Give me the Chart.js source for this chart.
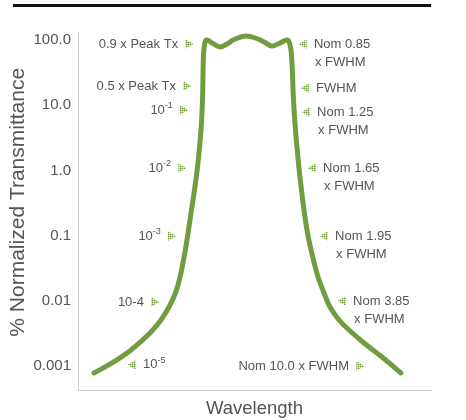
<!DOCTYPE html>
<html><head><meta charset="utf-8">
<script src="https://cdn.jsdelivr.net/npm/chart.js@4/dist/chart.umd.min.js"></script>
<style>
html,body{margin:0;padding:0;background:#fff;}
#wrap{position:relative;width:466px;height:420px;}
#rule{position:absolute;left:13px;top:4px;width:418px;height:3px;background:#111;}
canvas{position:absolute;left:0;top:0;}
</style></head><body>
<div id="wrap"><canvas id="c" width="466" height="420"></canvas><div id="rule"></div></div>
<script>
// ---- data (wavelength in arbitrary units 0..100, transmittance in %) ----
const curveX = [4.53, 9.63, 15.01, 20.40, 23.51, 25.78, 27.62, 28.90, 29.89, 30.74, 31.44, 32.15, 33.00, 33.99, 34.84, 35.27, 35.41, 35.55, 35.84, 36.40,
                38.24, 40.23, 42.21, 44.19, 47.59, 50.99, 52.97, 54.96, 56.94, 59.35,
                60.06, 60.48, 60.76, 61.05, 61.61, 62.46, 63.31, 64.02, 64.73, 65.58, 66.71, 67.99, 69.69, 71.39, 73.94, 76.77, 81.02, 86.12, 91.50];
const curveY = [0.000781, 0.001111, 0.001759, 0.003207, 0.005076, 0.00803, 0.01317, 0.02317, 0.04224, 0.0770, 0.1355, 0.2469, 0.5005, 1.299, 4.165, 12.02, 29.05, 58.88, 83.8, 100,
                88.4, 78.1, 86.9, 101.8, 115.2, 103.6, 91.6, 80.9, 88.4, 100,
                83.8, 58.88, 29.05, 12.02, 4.165, 1.299, 0.5005, 0.2469, 0.1355, 0.0770, 0.04224, 0.02317, 0.01317, 0.00803, 0.005076, 0.003565, 0.002253, 0.001374, 0.000781];

const tickValues = [0.001, 0.01, 0.1, 1, 10, 100];
const tickLabels = ['0.001', '0.01', '0.1', '1.0', '10.0', '100.0'];

const markerX   = [31.2, 30.6, 29.7, 29.2, 26.3, 21.5, 79.6, 15.6, 64.0, 64.6, 64.9, 66.6, 70.0, 75.1];
const markerY   = [86.9, 19.7, 8.44, 1.09, 0.0986, 0.0096, 0.001, 0.00104, 86.9, 18.4, 7.87, 1.09, 0.0986, 0.0099];
const markerDir = ['right','right','right','right','right','right','right','left','left','left','left','left','left','left'];
const labelText = ['0.9 x Peak Tx', '0.5 x Peak Tx', '10', '10', '10', '10-4', 'Nom 10.0 x FWHM', '10',
                   'Nom 0.85\nx FWHM', 'FWHM', 'Nom 1.25\nx FWHM', 'Nom 1.65\nx FWHM', 'Nom 1.95\nx FWHM', 'Nom 3.85\nx FWHM'];
const labelSup  = ['', '', '-1', '-2', '-3', '', '', '-5', '', '', '', '', '', ''];

const yMin = 0.000428, yMax = 132.7;

// ---- build ----
const FONT = "'Liberation Sans', Arial, Helvetica, sans-serif";
const GREEN = '#719c40';
const TXT = '#555555';

const pc = document.createElement('canvas'); pc.width = 2; pc.height = 2;
const pctx = pc.getContext('2d');
pctx.fillStyle = '#6e9c3c'; pctx.fillRect(0,0,1,1);
pctx.fillStyle = '#b3d097'; pctx.fillRect(1,0,1,1); pctx.fillRect(0,1,1,1);
pctx.fillStyle = '#e4efd9'; pctx.fillRect(1,1,1,1);
const ctxMain = document.getElementById('c').getContext('2d');
const dotPattern = ctxMain.createPattern(pc, 'repeat');

const curveData = curveX.map((x,i)=>({x, y: curveY[i]}));
const mRight = [], mLeft = [];
markerX.forEach((x,i)=>{ (markerDir[i]==='right' ? mRight : mLeft).push({x, y: markerY[i]}); });

const labelPlugin = {
  id: 'annoLabels',
  afterDatasetsDraw(chart) {
    const ctx = chart.ctx, xs = chart.scales.x, ys = chart.scales.y;
    const base = "13px " + FONT, supF = "9px " + FONT;
    ctx.save();
    ctx.fillStyle = TXT;
    ctx.textBaseline = 'middle';
    for (let i = 0; i < labelText.length; i++) {
      const px = xs.getPixelForValue(markerX[i]);
      const py = ys.getPixelForValue(markerY[i]);
      const lines = labelText[i].split('\n');
      const sup = labelSup[i];
      ctx.font = base;
      if (markerDir[i] === 'right') {
        let xr = px - 10;
        if (sup) {
          ctx.font = supF; ctx.textAlign = 'right';
          ctx.fillText(sup, xr, py - 4);
          xr -= ctx.measureText(sup).width;
          ctx.font = base;
        }
        ctx.textAlign = 'right';
        lines.forEach((l,k)=>ctx.fillText(l, xr + k, py + k*18));
      } else {
        const xl = px + 10;
        ctx.textAlign = 'left';
        lines.forEach((l,k)=>ctx.fillText(l, xl + k, py + k*18));
        if (sup) {
          const w = ctx.measureText(lines[0]).width;
          ctx.font = supF;
          ctx.fillText(sup, xl + w, py - 4);
        }
      }
    }
    ctx.restore();
  }
};

new Chart(ctxMain, {
  type: 'line',
  data: {
    datasets: [
      { data: curveData, borderColor: GREEN, borderWidth: 5, pointRadius: 0, tension: 0.4,
        borderCapStyle: 'round', borderJoinStyle: 'round', fill: false, clip: false, order: 2 },
      { type: 'scatter', data: mRight, pointStyle: 'triangle', rotation: 90, pointRadius: 5.5,
        backgroundColor: dotPattern, borderWidth: 0, pointBorderWidth: 0, order: 1, clip: false },
      { type: 'scatter', data: mLeft, pointStyle: 'triangle', rotation: -90, pointRadius: 5.5,
        backgroundColor: dotPattern, borderWidth: 0, pointBorderWidth: 0, order: 1, clip: false }
    ]
  },
  options: {
    responsive: false,
    animation: false,
    devicePixelRatio: 1,
    layout: { padding: { left: 0, top: 32, right: 35, bottom: 0 } },
    plugins: { legend: { display: false }, tooltip: { enabled: false } },
    events: [],
    scales: {
      x: {
        type: 'linear', min: 0, max: 100,
        grid: { display: false, drawTicks: false },
        border: { display: true, color: '#cfcfcf', width: 1 },
        ticks: { display: false },
        title: { display: true, text: 'Wavelength', color: TXT,
                 font: { family: FONT, size: 18.5 }, padding: { top: 0, bottom: 0 } },
        afterFit(s) { s.height = 30; }
      },
      y: {
        type: 'logarithmic', min: yMin, max: yMax,
        grid: { display: false, drawTicks: false },
        border: { display: true, color: '#cfcfcf', width: 1 },
        ticks: { color: TXT, font: { family: FONT, size: 15 }, padding: 7, autoSkip: false,
                 callback(v) { const i = tickValues.findIndex(t => Math.abs(t - v) / t < 1e-6); return i >= 0 ? tickLabels[i] : ''; } },
        afterBuildTicks(s) { s.ticks = tickValues.map(v => ({ value: v })); },
        title: { display: true, text: '\u00a0\u00a0\u00a0% Normalized Transmittance', color: TXT,
                 font: { family: FONT, size: 21 }, padding: { top: 6, bottom: 0 } },
        afterFit(s) { s.width = 78; }
      }
    }
  },
  plugins: [labelPlugin]
});
</script>
</body></html>
